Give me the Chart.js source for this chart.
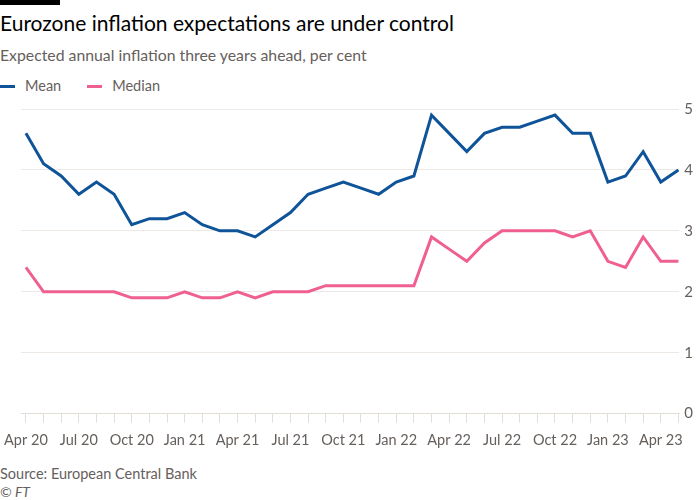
<!DOCTYPE html>
<html><head><meta charset="utf-8">
<script src="https://cdn.jsdelivr.net/npm/chart.js@4.4.1/dist/chart.umd.min.js"></script>
<style>
html,body{margin:0;padding:0;background:#fff}
body{width:700px;height:500px;position:relative;overflow:hidden;font-family:Lato,"Open Sans",sans-serif}
#bar{position:absolute;left:0;top:0;width:60px;height:5px;background:#000}
#title{position:absolute;left:0;top:10px;font-size:21px;line-height:26px;color:#000;white-space:nowrap}
#subtitle{position:absolute;left:0;top:45px;font-size:15.8px;line-height:20px;color:#66605c;white-space:nowrap}
#legend{position:absolute;left:0;top:77px;font-size:14.5px;line-height:18px;color:#66605c;white-space:nowrap}
#legend span.item{display:inline-block;margin-right:26px}
#legend i{display:inline-block;width:15px;height:3px;vertical-align:middle;margin-right:10px;position:relative;top:-1px}
#wrap{position:absolute;left:0;top:95px;width:700px;height:363px}
#source{position:absolute;left:0;top:465px;font-size:14.5px;line-height:18px;color:#66605c;white-space:nowrap}
#ft{position:absolute;left:0;top:483px;font-size:14px;line-height:18px;color:#66605c;font-style:italic}
</style></head>
<body>
<div id="bar"></div>
<div id="title">Eurozone inflation expectations are under control</div>
<div id="subtitle">Expected annual inflation three years ahead, per cent</div>
<div id="legend"><span class="item"><i style="background:#0f5499"></i>Mean</span><span class="item"><i style="background:#ef5f92"></i>Median</span></div>
<div id="wrap"><canvas id="c" width="700" height="363"></canvas></div>
<div id="source">Source: European Central Bank</div>
<div id="ft">© FT</div>
<script>
const months = ["Apr 20","May 20","Jun 20","Jul 20","Aug 20","Sep 20","Oct 20","Nov 20","Dec 20",
"Jan 21","Feb 21","Mar 21","Apr 21","May 21","Jun 21","Jul 21","Aug 21","Sep 21","Oct 21","Nov 21","Dec 21",
"Jan 22","Feb 22","Mar 22","Apr 22","May 22","Jun 22","Jul 22","Aug 22","Sep 22","Oct 22","Nov 22","Dec 22",
"Jan 23","Feb 23","Mar 23","Apr 23","May 23"];
const tickLabels = ["Apr 20","Jul 20","Oct 20","Jan 21","Apr 21","Jul 21","Oct 21","Jan 22","Apr 22","Jul 22","Oct 22","Jan 23","Apr 23"];
const meanValues = [4.6,4.1,3.9,3.6,3.8,3.6,3.1,3.2,3.2,
3.3,3.1,3.0,3.0,2.9,3.1,3.3,3.6,3.7,3.8,3.7,3.6,
3.8,3.9,4.9,4.6,4.3,4.6,4.7,4.7,4.8,4.9,4.6,4.6,
3.8,3.9,4.3,3.8,4.0];
const medianValues = [2.4,2.0,2.0,2.0,2.0,2.0,1.9,1.9,1.9,
2.0,1.9,1.9,2.0,1.9,2.0,2.0,2.0,2.1,2.1,2.1,2.1,
2.1,2.1,2.9,2.7,2.5,2.8,3.0,3.0,3.0,3.0,2.9,3.0,
2.5,2.4,2.9,2.5,2.5];
const yTicks = [0,1,2,3,4,5];

const toPts = arr => arr.map((v,i)=>({x:i,y:v}));
const fontFam = "Lato, 'Open Sans', sans-serif";

new Chart(document.getElementById('c'), {
  type:'line',
  data:{datasets:[
    {label:'Mean',data:toPts(meanValues),borderColor:'#0f5499',borderWidth:3,pointRadius:0,tension:0,borderJoinStyle:'miter'},
    {label:'Median',data:toPts(medianValues),borderColor:'#ef5f92',borderWidth:3,pointRadius:0,tension:0,borderJoinStyle:'miter'}
  ]},
  options:{
    responsive:false,animation:false,
    layout:{padding:{left:21,right:2,top:12,bottom:0}},
    plugins:{legend:{display:false},tooltip:{enabled:false}},
    scales:{
      x:{type:'linear',min:-0.28,max:37.05,
        afterBuildTicks:(axis)=>{axis.ticks = months.map((m,i)=>({value:i}));},
        afterFit:(axis)=>{axis.paddingLeft=0;axis.paddingRight=0;},
        ticks:{autoSkip:false,maxRotation:0,color:'#66605c',font:{family:fontFam,size:14.5},padding:9,
          callback:(v)=>{const m=months[v];return tickLabels.includes(m)?m:'';}},
        grid:{drawOnChartArea:false,tickLength:9,color:'#e3ddd7',tickColor:'#e3ddd7'},
        border:{display:true,color:'#e3ddd7',width:1}
      },
      y:{position:'right',min:0,max:5,
        afterBuildTicks:(axis)=>{axis.ticks = yTicks.map(v=>({value:v}));},
        ticks:{color:'#66605c',font:{family:fontFam,size:15},padding:5},
        grid:{color:'#ede8e3',drawTicks:false},
        border:{display:false}
      }
    }
  }
});
</script>
</body></html>
